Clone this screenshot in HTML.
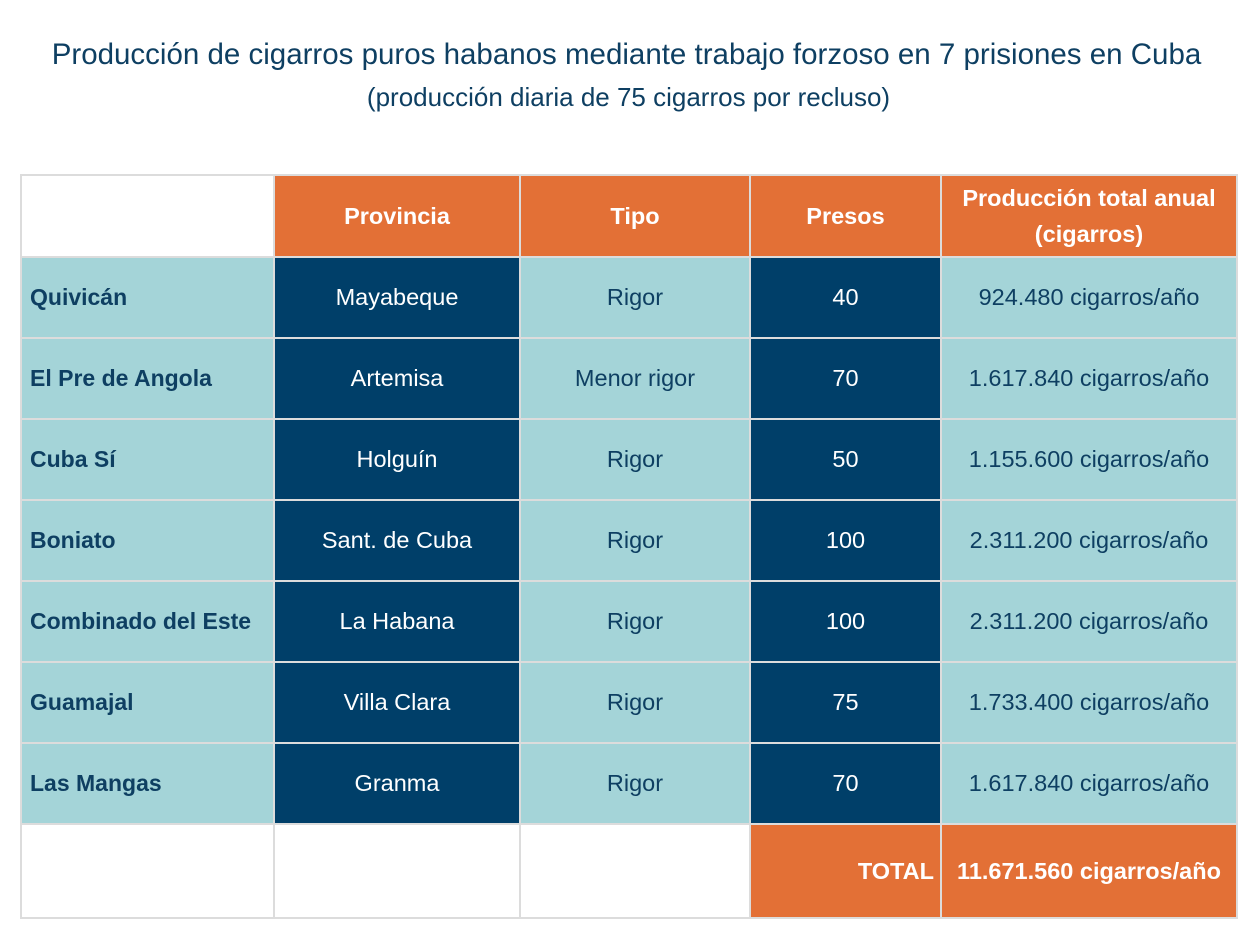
<!DOCTYPE html>
<html><head><meta charset="utf-8">
<style>
body{margin:0;width:1257px;height:939px;background:#fff;font-family:"Liberation Sans",sans-serif;overflow:hidden;position:relative}
.t{position:absolute;left:0;width:1257px;text-align:center;color:#0E3F62;white-space:nowrap}
table{position:absolute;left:20px;top:174px;border-collapse:collapse;table-layout:fixed}
td{border:2px solid #DCDCDC;font-size:23.5px;text-align:center;padding:0;height:79px;white-space:nowrap}
.h{background:#E37036;color:#fff;font-weight:bold}
.n{background:#003F69;color:#fff}
.l{background:#A4D4D8;color:#0E3F62}
.f{text-align:left;padding-left:8px;font-weight:bold;color:#0E3F62;font-size:23px}
</style></head><body>
<div class="t" style="top:38px;font-size:29.5px;left:-2px">Producción de cigarros puros habanos mediante trabajo forzoso en 7 prisiones en Cuba</div>
<div class="t" style="top:82px;font-size:26px;left:0px">(producción diaria de 75 cigarros por recluso)</div>
<table>
<colgroup><col style="width:253px"><col style="width:246px"><col style="width:230px"><col style="width:191px"><col style="width:296px"></colgroup>
<tr><td style="height:80px"></td>
<td class="h">Provincia</td>
<td class="h">Tipo</td>
<td class="h">Presos</td>
<td class="h" style="line-height:36px">Producción total anual<br>(cigarros)</td></tr>
<tr><td class="l f">Quivicán</td><td class="n">Mayabeque</td><td class="l">Rigor</td><td class="n">40</td><td class="l">924.480 cigarros/año</td></tr>
<tr><td class="l f">El Pre de Angola</td><td class="n">Artemisa</td><td class="l">Menor rigor</td><td class="n">70</td><td class="l">1.617.840 cigarros/año</td></tr>
<tr><td class="l f">Cuba Sí</td><td class="n">Holguín</td><td class="l">Rigor</td><td class="n">50</td><td class="l">1.155.600 cigarros/año</td></tr>
<tr><td class="l f">Boniato</td><td class="n">Sant. de Cuba</td><td class="l">Rigor</td><td class="n">100</td><td class="l">2.311.200 cigarros/año</td></tr>
<tr><td class="l f">Combinado del Este</td><td class="n">La Habana</td><td class="l">Rigor</td><td class="n">100</td><td class="l">2.311.200 cigarros/año</td></tr>
<tr><td class="l f">Guamajal</td><td class="n">Villa Clara</td><td class="l">Rigor</td><td class="n">75</td><td class="l">1.733.400 cigarros/año</td></tr>
<tr><td class="l f">Las Mangas</td><td class="n">Granma</td><td class="l">Rigor</td><td class="n">70</td><td class="l">1.617.840 cigarros/año</td></tr>
<tr><td style="height:92px"></td><td></td><td></td>
<td class="h" style="text-align:right;padding-right:6px">TOTAL</td>
<td class="h">11.671.560 cigarros/año</td></tr>
</table>
</body></html>
